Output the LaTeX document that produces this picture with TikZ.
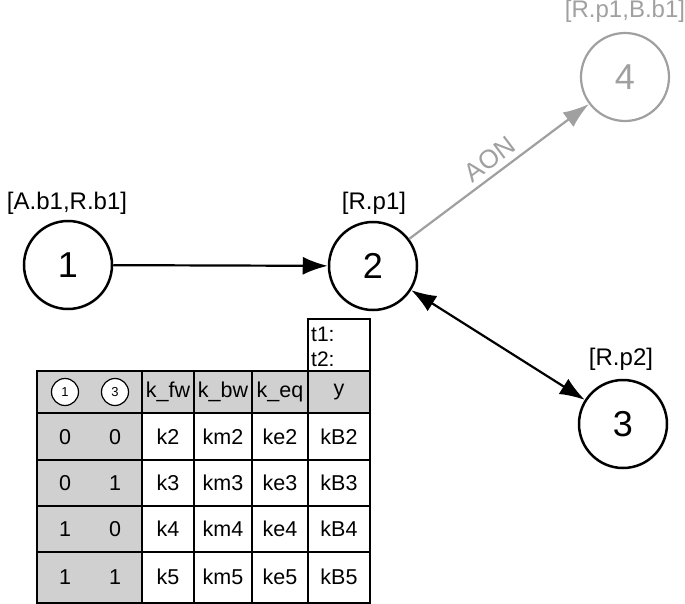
\documentclass[tikz,border=0pt]{standalone}
\usepackage{fontspec}
\setmainfont{Liberation Sans}
\usetikzlibrary{arrows.meta}
\definecolor{edgegray}{RGB}{160,160,160}
\definecolor{cellgray}{RGB}{208,208,208}
\begin{document}
\begin{tikzpicture}[x=1pt,y=-1pt,
  state/.style={circle,draw,line width=2.5pt,minimum size=88pt,inner sep=0pt,font=\fontsize{36}{36}\selectfont},
  graystate/.style={state,draw=edgegray,text=edgegray,line width=2.2pt},
  lbl/.style={font=\fontsize{24}{24}\selectfont,inner sep=0pt},
  edge/.style={line width=2.2pt,-{Latex[length=25pt,width=18pt]}},
  biedge/.style={line width=2.2pt,{Latex[length=25pt,width=18pt]}-{Latex[length=25pt,width=18pt]}},
  grayedge/.style={line width=2.2pt,draw=edgegray,-{Latex[length=26pt,width=18pt]},color=edgegray},
  cell/.style={font=\fontsize{21.5}{21.5}\selectfont,inner sep=0pt},
  tline/.style={line width=1.7pt},
  mini/.style={circle,draw,fill=white,line width=1.2pt,minimum size=27pt,inner sep=0pt,font=\fontsize{13}{13}\selectfont},
  tlbl/.style={font=\fontsize{21}{21}\selectfont,inner sep=0pt,anchor=base west}
]
\useasboundingbox (0,0) rectangle (685,604);

% states
\node[state] (n1) at (68,265) {1};
\node[state] (n2) at (373,266) {2};
\node[graystate] (n4) at (625,77) {4};
\node[state] (n3) at (623,424) {3};

% labels
\node[lbl,anchor=base] (l1) at (67,209) {[A.b1,R.b1]};
\node[lbl,anchor=base] (l2) at (374,210) {[R.p1]};
\node[lbl,anchor=base,text=edgegray] (l4) at (625,18) {[R.p1,B.b1]};
\node[lbl,anchor=base] (l3) at (621,365) {[R.p2]};

% edges
\draw[edge] (n1) -- (n2);
\draw[grayedge] (n2) -- node[sloped,above=5pt,pos=0.5,font=\fontsize{26}{26}\selectfont,text=edgegray,inner sep=0pt] (aon) {AON} (n4);
\draw[biedge] (n2) -- (n3);

% table backgrounds
\fill[cellgray] (37,371) rectangle (142,603);
\fill[cellgray] (142,371) rectangle (370,413);
% table lines
\draw[tline] (37,371) rectangle (370,603);
\draw[tline] (308,319) rectangle (370,371);
\foreach \yy in {413,460,506,552} \draw[tline] (37,\yy) -- (370,\yy);
\foreach \xx in {142,194,252,308} \draw[tline] (\xx,371) -- (\xx,603);

% t box
\node[tlbl] (t1) at (311,341) {t1:};
\node[tlbl] (t2) at (311,366) {t2:};

% header
\node[mini] (h1) at (65,392) {1};
\node[mini] (h3) at (115,392) {3};
\node[cell] (hfw) at (168,392) {k\_fw};
\node[cell] (hbw) at (223,392) {k\_bw};
\node[cell] (heq) at (280,392) {k\_eq};
\node[cell] (hy) at (339,392) {y};

% rows
\node[cell] (a1) at (65,437) {0};
\node[cell] (a2) at (115,437) {0};
\node[cell] (a3) at (168,437) {k2};
\node[cell] (a4) at (223,437) {km2};
\node[cell] (a5) at (280,437) {ke2};
\node[cell] (a6) at (339,437) {kB2};

\node[cell] (b1) at (65,483) {0};
\node[cell] (b2) at (115,483) {1};
\node[cell] (b3) at (168,483) {k3};
\node[cell] (b4) at (223,483) {km3};
\node[cell] (b5) at (280,483) {ke3};
\node[cell] (b6) at (339,483) {kB3};

\node[cell] (c1) at (65,529) {1};
\node[cell] (c2) at (115,529) {0};
\node[cell] (c3) at (168,529) {k4};
\node[cell] (c4) at (223,529) {km4};
\node[cell] (c5) at (280,529) {ke4};
\node[cell] (c6) at (339,529) {kB4};

\node[cell] (d1) at (65,577) {1};
\node[cell] (d2) at (115,577) {1};
\node[cell] (d3) at (168,577) {k5};
\node[cell] (d4) at (223,577) {km5};
\node[cell] (d5) at (280,577) {ke5};
\node[cell] (d6) at (339,577) {kB5};
\end{tikzpicture}
\end{document}
